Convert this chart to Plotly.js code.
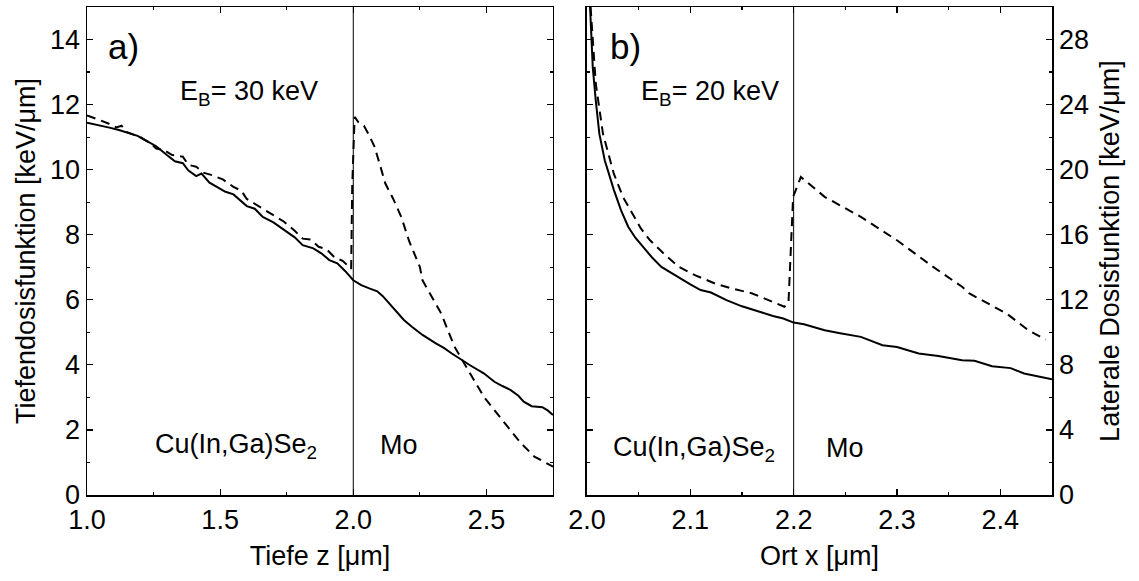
<!DOCTYPE html>
<html>
<head>
<meta charset="utf-8">
<script src="https://cdn.plot.ly/plotly-3.0.1.min.js"></script>
<style>html,body{margin:0;padding:0;background:#fff;}#chart{width:1139px;height:581px;}</style>
</head>
<body>
<div id="chart"></div>
<script>
// Panel a) depth dose function, E_B = 30 keV
const depthSolidX = [1.00,1.04,1.08,1.12,1.15,1.19,1.22,1.26,1.30,1.33,1.36,1.38,1.41,1.43,1.46,1.49,1.52,1.55,1.58,1.60,1.63,1.66,1.70,1.74,1.78,1.81,1.85,1.88,1.91,1.94,1.97,2.00,2.03,2.06,2.09,2.11,2.14,2.17,2.19,2.22,2.26,2.31,2.34,2.37,2.40,2.44,2.49,2.53,2.56,2.59,2.62,2.64,2.67,2.71,2.73,2.75];
const depthSolidY = [11.44,11.38,11.30,11.22,11.14,11.04,10.90,10.72,10.45,10.26,10.20,9.98,9.80,9.88,9.60,9.45,9.32,9.24,9.02,8.88,8.80,8.55,8.38,8.14,7.92,7.68,7.58,7.43,7.22,7.12,6.88,6.60,6.45,6.35,6.26,6.12,5.84,5.55,5.38,5.17,4.92,4.66,4.52,4.35,4.18,3.98,3.74,3.48,3.35,3.23,3.05,2.87,2.73,2.70,2.60,2.46];
const depthDashX = [1.00,1.04,1.08,1.11,1.13,1.15,1.20,1.24,1.26,1.29,1.32,1.36,1.38,1.41,1.44,1.47,1.51,1.55,1.58,1.60,1.63,1.66,1.70,1.74,1.78,1.81,1.84,1.87,1.90,1.93,1.96,1.98,1.992,1.996,2.005,2.02,2.04,2.06,2.08,2.10,2.12,2.15,2.18,2.21,2.25,2.26,2.33,2.38,2.44,2.49,2.56,2.63,2.68,2.72,2.75];
const depthDashY = [11.67,11.55,11.42,11.30,11.35,11.15,11.00,10.80,10.65,10.60,10.45,10.40,10.15,10.09,9.90,9.83,9.70,9.47,9.35,9.10,8.96,8.80,8.60,8.40,8.12,7.88,7.85,7.63,7.55,7.30,7.20,7.05,6.95,9.50,11.62,11.45,11.35,11.05,10.70,10.15,9.58,9.10,8.55,7.80,7.01,6.60,5.58,4.56,3.74,3.02,2.30,1.59,1.18,1.00,0.87];

// Panel b) lateral dose function, E_B = 20 keV
const latSolidX = [2.0030,2.004,2.0056,2.0085,2.012,2.0172,2.022,2.026,2.033,2.040,2.047,2.054,2.063,2.072,2.084,2.093,2.100,2.110,2.120,2.135,2.150,2.167,2.180,2.190,2.200,2.210,2.230,2.245,2.265,2.286,2.300,2.321,2.340,2.363,2.375,2.392,2.410,2.423,2.440,2.450];
const latSolidY = [30.0,28.5,26.3,24.26,22.2,20.58,19.6,18.76,17.5,16.48,15.8,15.25,14.6,14.02,13.55,13.2,12.95,12.6,12.45,11.98,11.6,11.27,11.0,10.85,10.6,10.5,10.13,9.95,9.72,9.21,9.1,8.7,8.55,8.29,8.25,7.92,7.8,7.47,7.25,7.12];
const latDashX = [2.0035,2.0085,2.0155,2.026,2.035,2.0436,2.052,2.061,2.075,2.089,2.105,2.124,2.140,2.160,2.175,2.191,2.195,2.197,2.1995,2.207,2.230,2.265,2.300,2.335,2.363,2.370,2.406,2.427,2.444];
const latDashY = [30.0,25.3,22.2,19.75,18.3,17.3,16.4,15.66,14.8,14.02,13.5,13.0,12.7,12.39,12.0,11.57,11.8,15.0,18.33,19.55,18.33,17.1,15.66,14.02,12.8,12.39,11.16,10.13,9.56];

const xTicksA = [1.0,1.5,2.0,2.5];
const xTicksB = [2.0,2.1,2.2,2.3,2.4];
const interfaceA = 2.0;
const interfaceB = 2.2;

const FONT = '"Liberation Sans", Arial, Helvetica, sans-serif';
const FS = 27;
const lineSolid = {color:'#000', width:2};
const lineDash = {color:'#000', width:2, dash:'9px,6px'};

const traces = [
  {x:depthSolidX, y:depthSolidY, xaxis:'x', yaxis:'y', mode:'lines', line:lineSolid, name:'solid a'},
  {x:depthDashX, y:depthDashY, xaxis:'x', yaxis:'y', mode:'lines', line:lineDash, name:'dash a'},
  {x:latSolidX, y:latSolidY, xaxis:'x2', yaxis:'y2', mode:'lines', line:lineSolid, name:'solid b'},
  {x:latDashX, y:latDashY, xaxis:'x2', yaxis:'y2', mode:'lines', line:lineDash, name:'dash b'}
];

const axCommon = {
  showgrid:false, zeroline:false, showline:true, linecolor:'#000', linewidth:1.5,
  ticks:'inside', ticklen:6, tickwidth:1.2, tickcolor:'#000', mirror:'ticks',
  tickfont:{family:FONT, size:FS, color:'#000'}
};

const layout = {
  width:1139, height:581,
  margin:{l:87, r:87, t:7, b:86},
  paper_bgcolor:'#fff', plot_bgcolor:'#fff',
  showlegend:false,
  font:{family:FONT, size:FS, color:'#000'},
  xaxis:Object.assign({}, axCommon, {
    domain:[0,0.4829], range:[1.0,2.75], anchor:'y',
    tickmode:'array', tickvals:xTicksA, ticktext:xTicksA.map(v=>v.toFixed(1)),
    minor:{dtick:0.25, tick0:1.0, ticks:'inside', ticklen:3, tickcolor:'#000', showgrid:false},
    title:{text:'Tiefe z [μm]', font:{family:FONT, size:FS}, standoff:12}
  }),
  yaxis:Object.assign({}, axCommon, {
    domain:[0,1], range:[0,15], anchor:'x', dtick:2, tick0:0,
    minor:{dtick:1, ticks:'inside', ticklen:3, tickcolor:'#000', showgrid:false},
    title:{text:'Tiefendosisfunktion [keV/μm]', font:{family:FONT, size:FS}, standoff:6}
  }),
  xaxis2:Object.assign({}, axCommon, {
    domain:[0.5181,1], range:[2.0,2.45], anchor:'y2',
    tickmode:'array', tickvals:xTicksB, ticktext:xTicksB.map(v=>v.toFixed(1)),
    minor:{dtick:0.05, tick0:2.0, ticks:'inside', ticklen:3, tickcolor:'#000', showgrid:false},
    title:{text:'Ort x [μm]', font:{family:FONT, size:FS}, standoff:12}
  }),
  yaxis2:Object.assign({}, axCommon, {
    domain:[0,1], range:[0,30], anchor:'x2', side:'right', dtick:4, tick0:0,
    minor:{dtick:2, ticks:'inside', ticklen:3, tickcolor:'#000', showgrid:false},
    title:{text:'Laterale Dosisfunktion [keV/μm]', font:{family:FONT, size:FS}, standoff:12}
  }),
  shapes:[
    {type:'line', xref:'x', yref:'y domain', x0:interfaceA, x1:interfaceA, y0:0, y1:1, line:{color:'#000', width:1}},
    {type:'line', xref:'x2', yref:'y2 domain', x0:interfaceB, x1:interfaceB, y0:0, y1:1, line:{color:'#000', width:1}}
  ],
  annotations:[
    {xref:'x', yref:'y', x:1.136, y:13.8, text:'a)', showarrow:false, font:{family:FONT, size:35}, xanchor:'center', yanchor:'middle'},
    {xref:'x', yref:'y', x:1.61, y:12.35, text:'E<sub>B</sub>= 30 keV', showarrow:false, font:{family:FONT, size:FS}, xanchor:'center', yanchor:'middle'},
    {xref:'x', yref:'y', x:1.561, y:1.5, text:'Cu(In,Ga)Se<sub>2</sub>', showarrow:false, font:{family:FONT, size:FS}, xanchor:'center', yanchor:'middle'},
    {xref:'x', yref:'y', x:2.173, y:1.55, text:'Mo', showarrow:false, font:{family:FONT, size:FS}, xanchor:'center', yanchor:'middle'},
    {xref:'x2', yref:'y2', x:2.037, y:27.6, text:'b)', showarrow:false, font:{family:FONT, size:35}, xanchor:'center', yanchor:'middle'},
    {xref:'x2', yref:'y2', x:2.119, y:24.7, text:'E<sub>B</sub>= 20 keV', showarrow:false, font:{family:FONT, size:FS}, xanchor:'center', yanchor:'middle'},
    {xref:'x2', yref:'y2', x:2.104, y:2.8, text:'Cu(In,Ga)Se<sub>2</sub>', showarrow:false, font:{family:FONT, size:FS}, xanchor:'center', yanchor:'middle'},
    {xref:'x2', yref:'y2', x:2.2496, y:2.9, text:'Mo', showarrow:false, font:{family:FONT, size:FS}, xanchor:'center', yanchor:'middle'}
  ]
};

Plotly.newPlot('chart', traces, layout, {staticPlot:true, displayModeBar:false});
</script>
</body>
</html>
